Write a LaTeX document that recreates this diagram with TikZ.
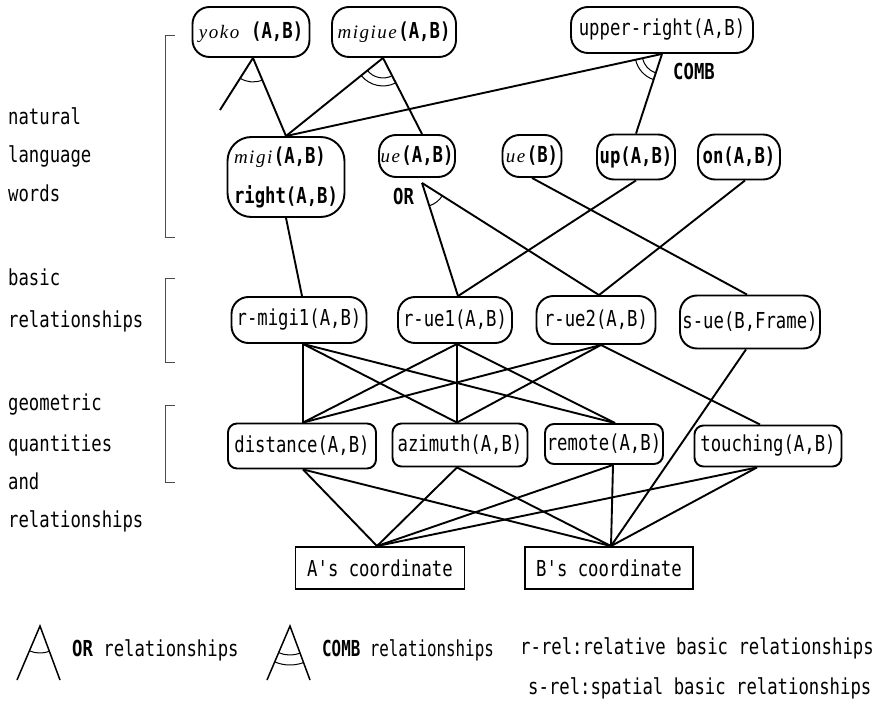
\documentclass[tikz,border=0pt]{standalone}
\usepackage{fontspec}
\newfontfamily\mono[FakeStretch=0.785]{DejaVu Sans Mono}
\newfontfamily\monoN[FakeStretch=0.72]{DejaVu Sans Mono}
\newfontfamily\itf[LetterSpace=8]{Liberation Serif}
\usetikzlibrary{calc}
\newcommand\ital[1]{{\itf\itshape\fontsize{19}{22}\selectfont #1}}
\newcommand\myarc[4]{%
  \draw[arcline] let \p1=(#1), \p2=(#2), \p3=(#3),
    \n1={atan2(\y2-\y1,\x2-\x1)}, \n2={atan2(\y3-\y1,\x3-\x1)} in
    (\x1,\y1) ++(\n1:#4) arc[start angle=\n1, end angle=\n2, radius=#4];}
\tikzset{
  txt/.style={font=\mono\fontsize{22}{26}\selectfont, inner sep=0pt},
  nbox/.style={txt, draw, line width=1.9pt, rounded corners=17pt},
  gbox/.style={txt, draw, line width=1.9pt, rounded corners=9pt},
  sbox/.style={txt, draw, line width=1.9pt},
  lbl/.style={txt, anchor=base west},
  conn/.style={line width=1.9pt},
  arcline/.style={line width=1pt},
  brk/.style={line width=0.8pt, black!70}
}
\begin{document}
\begin{tikzpicture}[x=1pt,y=-1pt]
\useasboundingbox (0,0) rectangle (883,703);
% top row
\node[nbox, minimum width=117pt, minimum height=50pt] (yoko) at (251,32) {\ital{yoko} \textbf{(A,B)}};
\node[nbox, minimum width=124pt, minimum height=50pt] (migiue) at (394,32) {\ital{migiue}\textbf{(A,B)}};
\node[nbox, minimum width=182pt, minimum height=46pt] (upr) at (662,30) {upper-right(A,B)};
% natural language row
\node[nbox, rounded corners=24pt, minimum width=117pt, minimum height=80pt, align=left] (migi) at (286,177) {\ital{migi}\textbf{(A,B)}\\[14pt]\textbf{right(A,B)}};
\node[nbox, minimum width=76pt, minimum height=42pt] (ueAB) at (417,156) {\ital{ue}\textbf{(A,B)}};
\node[nbox, minimum width=59pt, minimum height=42pt] (ueB) at (532,156) {\ital{ue}\textbf{(B)}};
\node[nbox, minimum width=78pt, minimum height=45pt] (up) at (636,157) {\textbf{up(A,B)}};
\node[nbox, minimum width=82pt, minimum height=45pt] (on) at (739,157) {\textbf{on(A,B)}};
% basic relationships row
\node[nbox, minimum width=135pt, minimum height=46pt] (rmigi) at (299,320) {r-migi1(A,B)};
\node[nbox, minimum width=114pt, minimum height=46pt] (rue1) at (455,320) {r-ue1(A,B)};
\node[nbox, minimum width=119pt, minimum height=48pt] (rue2) at (596,320) {r-ue2(A,B)};
\node[nbox, minimum width=140pt, minimum height=53pt] (sue) at (750,322) {s-ue(B,Frame)};
% geometric row
\node[gbox, minimum width=148pt, minimum height=45pt] (dist) at (302,446) {distance(A,B)};
\node[gbox, minimum width=135pt, minimum height=43pt] (azi) at (460,445) {azimuth(A,B)};
\node[gbox, minimum width=118pt, minimum height=40pt] (rem) at (604,444) {remote(A,B)};
\node[gbox, minimum width=147pt, minimum height=41pt] (touch) at (768,446) {touching(A,B)};
% coordinates
\node[sbox, minimum width=169pt, minimum height=42pt] (Ac) at (380,568) {A's coordinate};
\node[sbox, minimum width=168pt, minimum height=42pt] (Bc) at (609,568) {B's coordinate};
% connection points
\coordinate (yokoB) at ([xshift=2pt]yoko.south);
\coordinate (yokoend) at (220,110);
\coordinate (migiueB) at ([xshift=-11pt]migiue.south);
\coordinate (uprB) at (upr.south);
\coordinate (migiT) at (migi.north);
\coordinate (ueT) at ([xshift=5pt]ueAB.north);
\coordinate (orapex) at ([xshift=5pt,yshift=-5pt]ueAB.south);
\coordinate (onB) at ([xshift=6pt]on.south);
\coordinate (rmigiT) at ([xshift=3pt]rmigi.north);
\coordinate (rmigiB) at ([xshift=4pt]rmigi.south);
\coordinate (rue1T) at ([xshift=3pt]rue1.north);
\coordinate (rue1B) at ([xshift=2pt]rue1.south);
\coordinate (rue2T) at ([xshift=3pt]rue2.north);
\coordinate (rue2B) at ([xshift=5pt]rue2.south);
\coordinate (sueT) at ([xshift=-3pt]sue.north);
\coordinate (sueB) at ([xshift=-4pt]sue.south);
\coordinate (distT) at ([xshift=1pt]dist.north);
\coordinate (distB) at ([xshift=1pt]dist.south);
\coordinate (aziT) at ([xshift=-3pt]azi.north);
\coordinate (aziB) at ([xshift=-3pt]azi.south);
\coordinate (remT) at ([xshift=11pt]rem.north);
\coordinate (remB) at ([xshift=9pt]rem.south);
\coordinate (touchT) at ([xshift=-8pt]touch.north);
\coordinate (touchB) at ([xshift=-11pt]touch.south);
\coordinate (AT) at ([xshift=-3pt]Ac.north);
\coordinate (BT) at ([xshift=2pt]Bc.north);
% connectors
\draw[conn] (yokoB) -- (yokoend);
\draw[conn] (yokoB) -- (migiT);
\draw[conn] (migiueB) -- (migiT);
\draw[conn] (migiueB) -- (ueT);
\draw[conn] (uprB) -- (migiT);
\draw[conn] (uprB) -- (up.north);
\draw[conn] (migi.south) -- (rmigiT);
\draw[conn] (orapex) -- (rue1T);
\draw[conn] (orapex) -- (rue2T);
\draw[conn] (ueB.south) -- (sueT);
\draw[conn] (up.south) -- (rue1T);
\draw[conn] (onB) -- (rue2T);
\draw[conn] (rmigiB) -- (distT);
\draw[conn] (rmigiB) -- (aziT);
\draw[conn] (rmigiB) -- (remT);
\draw[conn] (rue1B) -- (distT);
\draw[conn] (rue1B) -- (aziT);
\draw[conn] (rue1B) -- (remT);
\draw[conn] (rue2B) -- (distT);
\draw[conn] (rue2B) -- (aziT);
\draw[conn] (rue2B) -- (touchT);
\draw[conn] (sueB) -- (BT);
\draw[conn] (distB) -- (AT);
\draw[conn] (distB) -- (BT);
\draw[conn] (aziB) -- (AT);
\draw[conn] (aziB) -- (BT);
\draw[conn] (remB) -- (AT);
\draw[conn] (remB) -- (BT);
\draw[conn] (touchB) -- (AT);
\draw[conn] (touchB) -- (BT);
% relation arcs
\myarc{yokoB}{yokoend}{migiT}{24pt}
\myarc{migiueB}{migiT}{ueT}{20pt}
\myarc{migiueB}{migiT}{ueT}{28pt}
\myarc{uprB}{migiT}{up.north}{20pt}
\myarc{uprB}{migiT}{up.north}{27pt}
\myarc{orapex}{rue1T}{rue2T}{24pt}
\node[lbl, font=\mono\bfseries\fontsize{22}{26}\selectfont] (comb) at (673,80) {COMB};
\node[lbl, font=\mono\bfseries\fontsize{22}{26}\selectfont] (orl) at (393,205) {OR};
% left labels
\node[lbl] (t1) at (8,125) {natural};
\node[lbl] (t2) at (8,163) {language};
\node[lbl] (t3) at (8,202) {words};
\node[lbl] (t4) at (8,285) {basic};
\node[lbl] (t5) at (8,327) {relationships};
\node[lbl] (t6) at (8,410) {geometric};
\node[lbl] (t7) at (8,451) {quantities};
\node[lbl] (t8) at (8,489) {and};
\node[lbl] (t9) at (8,527) {relationships};
% brackets
\draw[brk] (175,35) -- (165,35) -- (165,237) -- (175,237);
\draw[brk] (175,278) -- (165,278) -- (165,362) -- (175,362);
\draw[brk] (175,405) -- (165,405) -- (165,482) -- (175,482);
% legend
\coordinate (orA) at (40,626);
\coordinate (orL) at (17,680);
\coordinate (orR) at (60,680);
\draw[line width=1.5pt] (orL) -- (orA) -- (orR);
\myarc{orA}{orL}{orR}{27pt}
\node[lbl] (orleg) at (72,656) {\textbf{OR} relationships};
\coordinate (cA) at (290,626);
\coordinate (cL) at (267,680);
\coordinate (cR) at (310,680);
\draw[line width=1.5pt] (cL) -- (cA) -- (cR);
\myarc{cA}{cL}{cR}{29pt}
\myarc{cA}{cL}{cR}{39pt}
\node[lbl, font=\monoN\fontsize{22}{26}\selectfont] (combleg) at (322,656) {\textbf{COMB} relationships};
\node[lbl] (rrel) at (520,654) {r-rel:relative basic relationships};
\node[lbl] (srel) at (528,694) {s-rel:spatial basic relationships};
\end{tikzpicture}
\end{document}
